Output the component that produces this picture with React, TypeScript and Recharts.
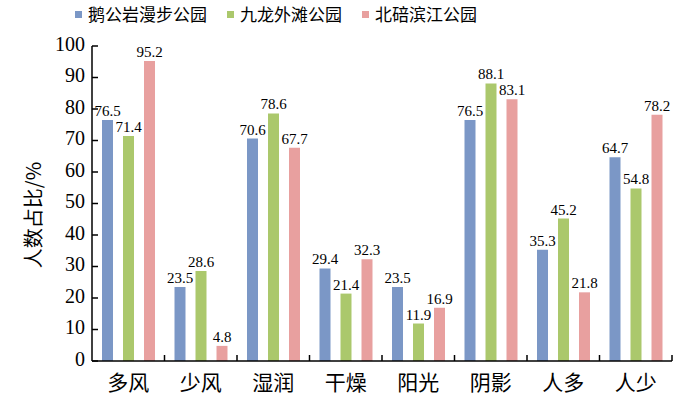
import { Bar, BarChart, LabelList, XAxis, YAxis } from "recharts";

const categories = ["多风", "少风", "湿润", "干燥", "阳光", "阴影", "人多", "人少"];
const seriesNames = ["鹅公岩漫步公园", "九龙外滩公园", "北碚滨江公园"];
const ehgy = [76.5, 23.5, 70.6, 29.4, 23.5, 76.5, 35.3, 64.7];
const jlwt = [71.4, 28.6, 78.6, 21.4, 11.9, 88.1, 45.2, 54.8];
const bbbj = [95.2, 4.8, 67.7, 32.3, 16.9, 83.1, 21.8, 78.2];
const yTicks = [0, 10, 20, 30, 40, 50, 60, 70, 80, 90, 100];

const colors = ["#7b97c6", "#abc86c", "#e8a09f"];
const keys = ["a", "b", "c"];

const data = categories.map((name, i) => ({ name, a: ehgy[i], b: jlwt[i], c: bbbj[i] }));

const W = 700;
const H = 395;
const yAxisW = 50;
const margin = { top: 46, right: 28, bottom: 4, left: 92 - yAxisW };
const xAxisH = 30;
const plotW = W - 92 - margin.right;
const band = plotW / categories.length;
const serif = "'Liberation Serif', 'DejaVu Serif', serif";
const cjk = "'Noto Sans CJK SC', sans-serif";

function YTick(props: any) {
  const { x, y, payload } = props;
  return (
    <g>
      <line x1={x} x2={x + 6} y1={y} y2={y} stroke="#000" strokeWidth={1.5} />
      <text x={x - 7} y={y} textAnchor="end" dominantBaseline="middle" fontFamily={serif} fontSize={20} fill="#000">
        {payload.value}
      </text>
    </g>
  );
}

function XTick(props: any) {
  const { x, y, payload } = props;
  const edge = x + band / 2;
  return (
    <g>
      <line x1={edge} x2={edge} y1={y} y2={y - 6} stroke="#000" strokeWidth={1.5} />
      <text x={x} y={y + 29} textAnchor="middle" fontFamily={cjk} fontSize={21} fill="#000">
        {payload.value}
      </text>
    </g>
  );
}

export default function App() {
  return (
    <div style={{ position: "absolute", left: 0, top: 0, width: W, height: H, background: "#fff" }}>
      <div
        style={{
          position: "absolute",
          top: 3,
          left: 75,
          display: "flex",
          gap: 20,
          fontFamily: cjk,
          fontSize: 17,
          lineHeight: "22px",
          color: "#000",
          alignItems: "center",
        }}
      >
        {seriesNames.map((n, i) => (
          <div key={n} style={{ display: "flex", alignItems: "center", gap: 6 }}>
            <div style={{ width: 7, height: 7, background: colors[i] }} />
            <span>{n}</span>
          </div>
        ))}
      </div>
      <div
        style={{
          position: "absolute",
          left: 32,
          top: 215,
          transform: "translate(-50%, -50%) rotate(-90deg)",
          fontFamily: cjk,
          fontSize: 20,
          whiteSpace: "nowrap",
          color: "#000",
        }}
      >
        人数占比/%
      </div>
      <BarChart width={W} height={H} data={data} margin={margin} barSize={11} barGap={10} barCategoryGap={0}>
        <XAxis
          dataKey="name"
          height={xAxisH}
          axisLine={{ stroke: "#000", strokeWidth: 1.5 }}
          tickLine={false}
          tickSize={0}
          tickMargin={0}
          tick={XTick}
          interval={0}
        />
        <YAxis
          width={yAxisW}
          domain={[0, 100]}
          ticks={yTicks}
          axisLine={{ stroke: "#000", strokeWidth: 1.5 }}
          tickLine={false}
          tickSize={0}
          tickMargin={0}
          tick={YTick}
          interval={0}
        />
        {keys.map((k, i) => (
          <Bar key={k} dataKey={k} name={seriesNames[i]} fill={colors[i]} isAnimationActive={false}>
            <LabelList dataKey={k} position="top" offset={4} fontFamily={serif} fontSize={15} fill="#000" />
          </Bar>
        ))}
      </BarChart>
    </div>
  );
}
